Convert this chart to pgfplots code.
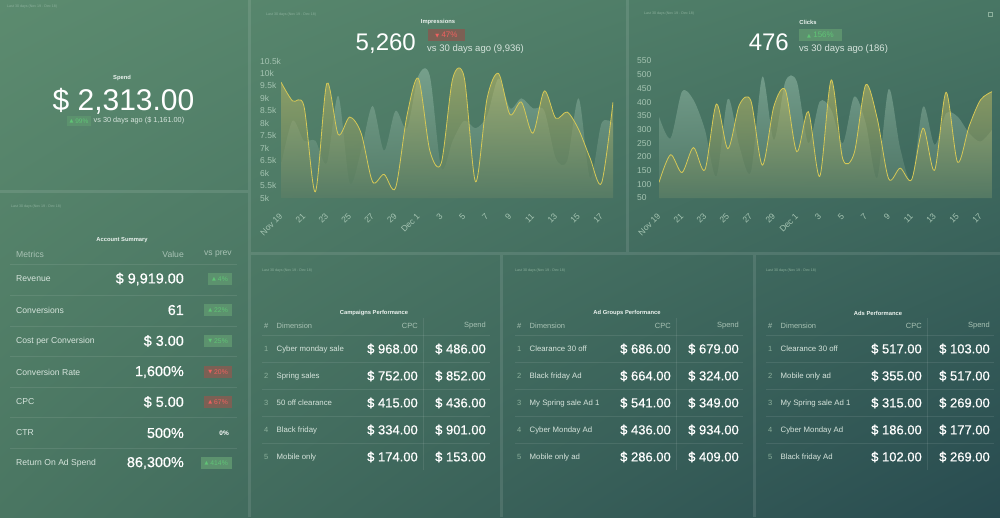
\documentclass[border=0pt]{standalone}
\usepackage{pgfplots}
\pgfplotsset{compat=1.18}
\usetikzlibrary{shadings}
\usepackage{fontspec}
\setmainfont{Liberation Sans}
\newfontfamily\medfont{Liberation Sans}[FakeBold=0.6]
\newfontfamily\sym{DejaVu Sans}
\newcommand{\fs}[1]{\fontsize{#1pt}{#1pt}\selectfont}
\definecolor{bgTL}{RGB}{92,139,111}
\definecolor{bgTR}{RGB}{72,118,100}
\definecolor{bgBL}{RGB}{74,118,98}
\definecolor{bgBR}{RGB}{40,75,80}
\definecolor{txt}{RGB}{236,243,239}
\definecolor{txtb}{RGB}{214,228,220}
\definecolor{muted}{RGB}{168,194,180}
\definecolor{faint}{RGB}{140,176,156}
\definecolor{tick}{RGB}{165,196,178}
\definecolor{ylw}{RGB}{214,200,86}
\definecolor{ytop}{RGB}{190,185,100}
\definecolor{ybot}{RGB}{90,125,100}
\definecolor{ptop}{RGB}{158,195,177}
\definecolor{pbot}{RGB}{90,128,108}
\definecolor{gbadge}{RGB}{92,146,110}
\definecolor{gtext}{RGB}{96,196,118}
\definecolor{rbadge}{RGB}{124,96,84}
\definecolor{rtext}{RGB}{240,96,96}

\newcommand{\up}{{\sym\fs{5}\raisebox{0.3pt}{▲}}}
\newcommand{\dn}{{\sym\fs{5}\raisebox{0.3pt}{▼}}}

\newcommand{\perftable}[3]{%
 \node[anchor=west, text=faint, font=\fs{3.6}] at ({#1-2},271) {Last 30 days (Nov 19 - Dec 18)};
 \node[text=txt, font=\bfseries\fs{5.8}] at ({#1+110},313) {#2};
 \node[anchor=west, text=muted, font=\fs{7.5}] at (#1,326) {\#};
 \node[anchor=west, text=muted, font=\fs{7.5}] at ({#1+12.5},326) {Dimension};
 \node[anchor=east, text=muted, font=\fs{7.5}] at ({#1+154},326) {CPC};
 \node[anchor=east, text=muted, font=\fs{7.5}] at ({#1+222},326) {Spend};
 \draw[rule] ({#1+159},318) -- ({#1+159},470);
 \foreach \ly in {335,362,389,416,443} \draw[rule] ({#1-2},\ly) -- ({#1+226},\ly);
 \foreach \nm/\cc/\ss [count=\k] in {#3} {
   \pgfmathsetmacro\yy{349+27*(\k-1)}
   \node[anchor=west, text=faint, font=\fs{7.5}] at (#1,\yy) {\k};
   \node[anchor=west, text=txtb, font=\fs{7.8}] at ({#1+12.5},\yy) {\nm};
   \node[anchor=east, text=white, font=\medfont\fs{13}] at ({#1+154},\yy) {\cc};
   \node[anchor=east, text=white, font=\medfont\fs{13}] at ({#1+222},\yy) {\ss};
 }
}

\begin{document}
\begin{tikzpicture}
\begin{scope}[x=1pt,y=-1pt, every node/.style={inner sep=0pt},
  rule/.style={draw=white, draw opacity=0.09, line width=0.6pt}]
\useasboundingbox (0,0) rectangle (1000,517);
\shade[upper left=bgTL, upper right=bgTR, lower left=bgBL, lower right=bgBR] (0,0) rectangle (1000,517);
% panel separators
\fill[white, fill opacity=0.1] (248,0) rectangle (251,517);
\fill[white, fill opacity=0.1] (0,190) rectangle (248,193);
\fill[white, fill opacity=0.1] (251,252) rectangle (1000,255);
\fill[white, fill opacity=0.1] (626,0) rectangle (629,252);
\fill[white, fill opacity=0.1] (500,255) rectangle (503,517);
\fill[white, fill opacity=0.1] (753,255) rectangle (756,517);

% Spend
\node[anchor=west, text=faint, font=\fs{3.6}] at (7,7) {Last 30 days (Nov 19 - Dec 18)};
\node[text=txt, font=\bfseries\fs{5.8}] at (122,78) {Spend};
\node[anchor=base, text=white, font=\fs{30}] at (123.5,110) {\$ 2,313.00};
\node[anchor=east, fill=gbadge, text=gtext, font=\fs{6.5}, inner xsep=2.5pt, inner ysep=2.3pt] at (91,121) {\up\ 99\%};
\node[anchor=west, text=txtb, font=\fs{7.3}] at (93.5,121) {vs 30 days ago (\$ 1,161.00)};

% Account summary
\node[anchor=west, text=faint, font=\fs{3.6}] at (11,207) {Last 30 days (Nov 19 - Dec 18)};
\node[text=txt, font=\bfseries\fs{5.8}] at (122,240) {Account Summary};
\node[anchor=west, text=muted, font=\fs{8.6}] at (16,254) {Metrics};
\node[anchor=east, text=muted, font=\fs{8.6}] at (184,254) {Value};
\node[anchor=east, text=muted, font=\fs{8.6}] at (232,254) {vs prev};
\foreach \ly in {264,295,326,356,387,417,448} \draw[rule] (10,\ly) -- (237,\ly);
\foreach \yy/\lab/\val in {279/Revenue/{\$ 9,919.00}, 310/Conversions/61, 341/Cost per Conversion/{\$ 3.00}, 372/Conversion Rate/{1,600\%}, 402/CPC/{\$ 5.00}, 433/CTR/{500\%}, 463/Return On Ad Spend/{86,300\%}} {
  \node[anchor=west, text=txtb, font=\fs{8.6}] at (16,\yy) {\lab};
  \node[anchor=east, text=white, font=\medfont\fs{14.4}] at (184,\yy) {\val};
}
\tikzset{gb/.style={anchor=east, fill=gbadge, text=gtext, font=\fs{6.8}, inner xsep=4pt, inner ysep=3pt},
         rb/.style={anchor=east, fill=rbadge, text=rtext, font=\fs{6.8}, inner xsep=4pt, inner ysep=3pt}}
\node[gb] at (232,279) {\up\ 4\%};
\node[gb] at (232,310) {\up\ 22\%};
\node[gb] at (232,341) {\dn\ 25\%};
\node[rb] at (232,372) {\dn\ 20\%};
\node[rb] at (232,402) {\up\ 67\%};
\node[anchor=east, text=white, font=\bfseries\fs{6.5}] at (229,433) {0\%};
\node[gb] at (232,463) {\up\ 414\%};

% Impressions header
\node[anchor=west, text=faint, font=\fs{3.6}] at (266,15) {Last 30 days (Nov 19 - Dec 18)};
\node[text=txt, font=\bfseries\fs{5.8}] at (438,22) {Impressions};
\node[anchor=base east, text=white, font=\fs{24}] at (416,50) {5,260};
\node[fill=rbadge, text=rtext, font=\fs{8}, minimum width=37pt, minimum height=11.5pt] at (446.5,35) {\dn\ 47\%};
\node[anchor=base west, text=txtb, font=\fs{9.5}] at (427,51.5) {vs 30 days ago (9,936)};

% Clicks header
\node[anchor=west, text=faint, font=\fs{3.6}] at (644,14) {Last 30 days (Nov 19 - Dec 18)};
\draw[faint, line width=0.4pt] (988.5,12) rectangle (992.5,16);
\node[text=txt, font=\bfseries\fs{5.8}] at (808,22) {Clicks};
\node[anchor=base east, text=white, font=\fs{24}] at (789,50) {476};
\node[fill=gbadge, text=gtext, font=\fs{8}, minimum width=43pt, minimum height=11.5pt] at (820.5,35) {\up\ 156\%};
\node[anchor=base west, text=txtb, font=\fs{9.5}] at (799,51.5) {vs 30 days ago (186)};

% tables
\perftable{264}{Campaigns Performance}{Cyber monday sale/{\$ 968.00}/{\$ 486.00}, Spring sales/{\$ 752.00}/{\$ 852.00}, 50 off clearance/{\$ 415.00}/{\$ 436.00}, Black friday/{\$ 334.00}/{\$ 901.00}, Mobile only/{\$ 174.00}/{\$ 153.00}}
\perftable{517}{Ad Groups Performance}{Clearance 30 off/{\$ 686.00}/{\$ 679.00}, Black friday Ad/{\$ 664.00}/{\$ 324.00}, My Spring sale Ad 1/{\$ 541.00}/{\$ 349.00}, Cyber Monday Ad/{\$ 436.00}/{\$ 934.00}, Mobile only ad/{\$ 286.00}/{\$ 409.00}}
\perftable{768}{Ads Performance}{Clearance 30 off/{\$ 517.00}/{\$ 103.00}, Mobile only ad/{\$ 355.00}/{\$ 517.00}, My Spring sale Ad 1/{\$ 315.00}/{\$ 269.00}, Cyber Monday Ad/{\$ 186.00}/{\$ 177.00}, Black friday Ad/{\$ 102.00}/{\$ 269.00}}
\end{scope}

\pgfplotsset{dash/.style={
  scale only axis, anchor=south west,
  xmin=0, xmax=29,
  /pgf/number format/assume math mode=true,
  scaled y ticks=false,
  axis line style={draw=none}, major tick length=0pt,
  xtick={0,2,...,28},
  xticklabels={Nov 19,21,23,25,27,29,Dec 1,3,5,7,9,11,13,15,17},
  xticklabel style={rotate=45, anchor=east, inner sep=0pt, font=\fs{8.5}, text=tick},
  xticklabel shift=17pt,
  yticklabel style={anchor=west, inner sep=0pt, font=\fs{8.5}, text=tick},
  clip=true,
}}

\begin{axis}[dash, at={(281pt,-198pt)}, width=332pt, height=137pt,
  ymin=5000, ymax=10500,
  ytick={5000,5500,...,10500},
  yticklabels={5k,5.5k,6k,6.5k,7k,7.5k,8k,8.5k,9k,9.5k,10k,10.5k},
  yticklabel shift=21pt]
\addplot[draw=none, smooth, top color=ptop, bottom color=pbot, fill opacity=0.5] coordinates {
(0,6300)(1,8100)(2,7300)(3,7300)(4,6400)(5,9100)(6,5600)(7,6900)(8,8700)(9,6900)
(10,8500)(11,7800)(12,9900)(13,9900)(14,6200)(15,7300)(16,8100)(17,7800)(18,8300)(19,9800)
(20,8600)(21,9000)(22,8600)(23,8500)(24,6600)(25,6500)(26,9000)(27,5800)(28,8000)(29,8000)} \closedcycle;
\addplot[draw=none, smooth, top color=ytop, bottom color=ybot, fill opacity=0.6] coordinates {
(0,9650)(1,8900)(2,8700)(3,5250)(4,9600)(5,7550)(6,8250)(7,7600)(8,5650)(9,5950)
(10,5400)(11,8300)(12,9800)(13,6900)(14,6400)(15,9800)(16,9850)(17,5650)(18,9000)(19,10000)
(20,8350)(21,8850)(22,7600)(23,9300)(24,8200)(25,8450)(26,7750)(27,6600)(28,5600)(29,8850)} \closedcycle;
\addplot[ylw, line width=0.8pt, smooth] coordinates {
(0,9650)(1,8900)(2,8700)(3,5250)(4,9600)(5,7550)(6,8250)(7,7600)(8,5650)(9,5950)
(10,5400)(11,8300)(12,9800)(13,6900)(14,6400)(15,9800)(16,9850)(17,5650)(18,9000)(19,10000)
(20,8350)(21,8850)(22,7600)(23,9300)(24,8200)(25,8450)(26,7750)(27,6600)(28,5600)(29,8850)};
\end{axis}

\begin{axis}[dash, at={(659pt,-198pt)}, width=333pt, height=137pt,
  ymin=50, ymax=550,
  ytick={50,100,...,550},
  yticklabel shift=22pt]
\addplot[draw=none, smooth, top color=ptop, bottom color=pbot, fill opacity=0.5] coordinates {
(0,347)(1,268)(2,438)(3,408)(4,299)(5,129)(6,412)(7,238)(8,145)(9,493)
(10,262)(11,475)(12,475)(13,250)(14,402)(15,372)(16,250)(17,420)(18,323)(19,123)
(20,448)(21,232)(22,117)(23,384)(24,244)(25,359)(26,347)(27,287)(28,256)(29,299)} \closedcycle;
\addplot[draw=none, smooth, top color=ytop, bottom color=ybot, fill opacity=0.6] coordinates {
(0,107)(1,208)(2,143)(3,234)(4,153)(5,393)(6,230)(7,390)(8,405)(9,170)
(10,384)(11,444)(12,219)(13,365)(14,129)(15,481)(16,193)(17,214)(18,463)(19,341)
(20,120)(21,159)(22,117)(23,305)(24,151)(25,436)(26,181)(27,311)(28,408)(29,438)} \closedcycle;
\addplot[ylw, line width=0.8pt, smooth] coordinates {
(0,107)(1,208)(2,143)(3,234)(4,153)(5,393)(6,230)(7,390)(8,405)(9,170)
(10,384)(11,444)(12,219)(13,365)(14,129)(15,481)(16,193)(17,214)(18,463)(19,341)
(20,120)(21,159)(22,117)(23,305)(24,151)(25,436)(26,181)(27,311)(28,408)(29,438)};
\end{axis}
\end{tikzpicture}
\end{document}
